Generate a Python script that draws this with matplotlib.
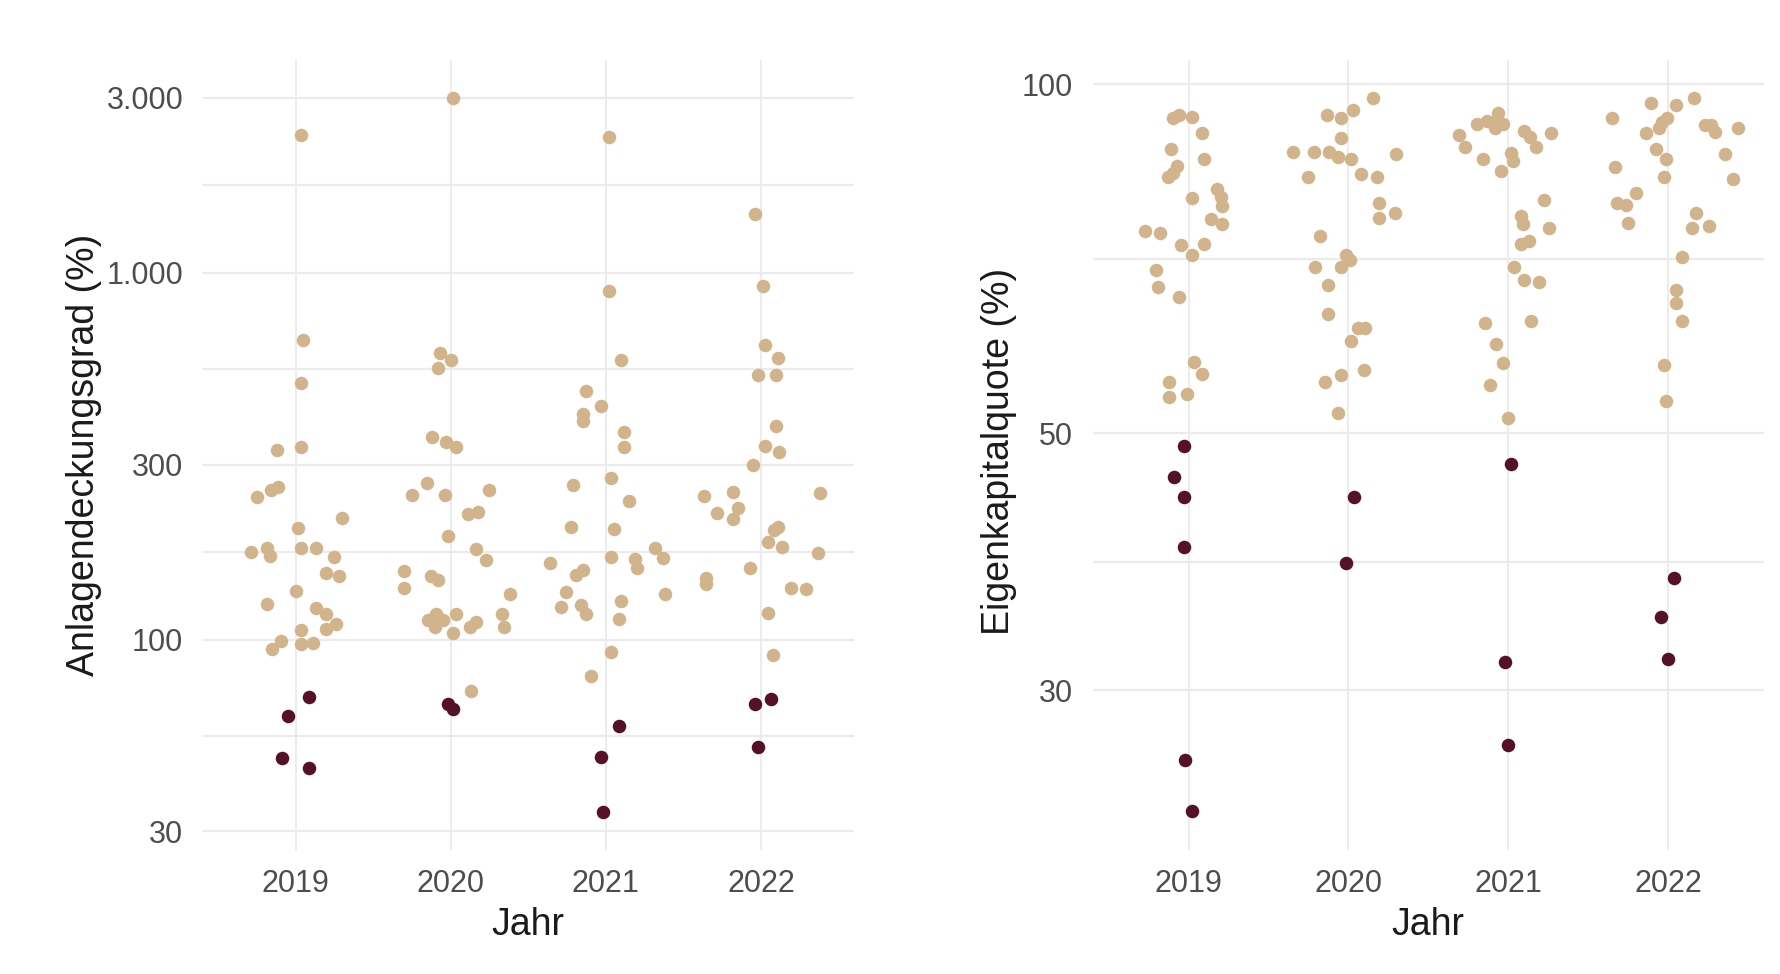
import numpy as np
import matplotlib
matplotlib.use("Agg")
import matplotlib.pyplot as plt
from matplotlib.ticker import FixedLocator, NullFormatter

plt.rcParams['font.family'] = ['Liberation Sans', 'DejaVu Sans']

years = ["2019", "2020", "2021", "2022"]

# ---------- Anlagendeckungsgrad (%) : (value, jitter) ----------
adg_hell_2019 = [(2372, 0.035), (655, 0.047), (500, 0.032), (334, 0.032), (329, -0.118),
                 (261, -0.113), (255, -0.16), (245, -0.248), (215, 0.30), (202, 0.015),
                 (178, -0.184), (178, 0.032), (178, 0.133), (173, -0.285), (169, -0.167),
                 (167.5, 0.246), (152, 0.193), (149, 0.282), (136, 0.0), (125, -0.182),
                 (122, 0.133), (117.5, 0.193), (110, 0.261), (107, 0.197), (106, 0.032),
                 (99, -0.096), (98, 0.111), (97, 0.032), (94, -0.152)]
adg_dunkel_2019 = [(69.6, 0.083), (62, -0.049), (47.6, -0.086), (44.6, 0.083)]

adg_hell_2020 = [(2985, 0.012), (603, -0.071), (578, 0.0), (550, -0.081), (357, -0.12),
                 (345, -0.032), (334, 0.032), (267, -0.152), (255, 0.244), (247, -0.248),
                 (247, -0.034), (223, 0.175), (220, 0.111), (191, -0.017), (176, 0.16),
                 (165, 0.229), (154, -0.30), (149, -0.13), (145, -0.081), (138, -0.30),
                 (133, 0.385), (117.5, -0.098), (117.5, 0.036), (117.5, 0.33), (113, -0.145),
                 (113, -0.049), (112, 0.165), (108.5, -0.103), (108.5, 0.342), (108, 0.122),
                 (104, 0.015), (72.3, 0.133)]
adg_dunkel_2020 = [(66.8, -0.017), (64.8, 0.015)]

adg_hell_2021 = [(2337, 0.019), (893, 0.021), (578, 0.10), (477, -0.128), (432, -0.032),
                 (412, -0.145), (393, -0.145), (369, 0.118), (334, 0.118), (276, 0.032),
                 (263, -0.214), (238, 0.15), (203, -0.227), (200, 0.051), (178, 0.315),
                 (167.5, 0.032), (167, 0.368), (166, 0.186), (162, -0.36), (157, 0.201),
                 (155, -0.145), (150, -0.193), (135, -0.259), (133, 0.379), (127, 0.10),
                 (124, -0.163), (123, -0.291), (117.5, -0.128), (114, 0.086), (92.3, 0.036),
                 (79.8, -0.096)]
adg_dunkel_2021 = [(58, 0.086), (47.8, -0.032), (33.8, -0.017)]

adg_hell_2022 = [(1442, -0.036), (921, 0.015), (635, 0.028), (586, 0.113), (525, -0.021),
                 (525, 0.096), (381, 0.096), (336, 0.028), (324, 0.118), (299, -0.053),
                 (253, -0.182), (251, 0.379), (246, -0.364), (229, -0.15), (221, -0.282),
                 (213, -0.178), (203, 0.113), (199, 0.081), (185, 0.043), (179, 0.133),
                 (172, 0.37), (157, -0.068), (147, -0.353), (142, -0.353), (138, 0.193),
                 (137, 0.289), (118, 0.047), (91, 0.079)]
adg_dunkel_2022 = [(66.9, -0.036), (68.8, 0.064), (51.0, -0.021)]

# ---------- Eigenkapitalquote (%) : (value, jitter) ----------
ekq_hell_2019 = [(93.5, -0.095), (94.1, -0.058), (93.7, 0.019), (90.7, 0.083), (87.9, -0.11),
                 (86.2, 0.097), (85.0, -0.073), (83.9, -0.10), (83.1, -0.13), (81.2, 0.18),
                 (79.8, 0.019), (80.0, 0.205), (78.5, 0.211), (76.5, 0.143), (75.8, 0.211),
                 (74.7, -0.27), (74.4, -0.176), (72.6, -0.048), (71.3, 0.019), (72.8, 0.097),
                 (69.2, -0.203), (66.8, -0.193), (65.5, -0.062), (57.6, 0.035), (56.2, 0.083),
                 (55.3, -0.124), (53.7, -0.124), (54.0, -0.012)]
ekq_dunkel_2019 = [(48.7, -0.027), (45.8, -0.093), (44.0, -0.027), (39.9, -0.027),
                   (26.1, -0.019), (23.6, 0.02)]

ekq_hell_2020 = [(97.4, 0.157), (95.0, 0.03), (94.1, -0.136), (93.5, -0.048), (89.8, -0.048),
                 (87.5, -0.346), (87.5, -0.214), (87.5, -0.124), (86.6, -0.066), (86.2, 0.015),
                 (87.1, 0.30), (83.1, -0.255), (83.7, 0.077), (83.1, 0.176), (79.0, 0.191),
                 (76.6, 0.191), (77.5, 0.29), (74.0, -0.176), (71.2, -0.015), (70.5, 0.01),
                 (69.6, -0.211), (69.6, -0.048), (67.1, -0.129), (63.4, -0.129), (61.6, 0.062),
                 (61.6, 0.104), (60.0, 0.015), (56.7, 0.098), (56.1, -0.048), (55.3, -0.145),
                 (52.0, -0.062)]
ekq_dunkel_2020 = [(44.0, 0.035), (38.6, -0.017)]

ekq_hell_2021 = [(94.4, -0.062), (93.0, -0.135), (92.8, -0.083), (92.5, -0.031), (92.5, -0.197),
                 (91.6, -0.083), (90.4, -0.305), (88.3, -0.27), (91.2, 0.10), (90.1, 0.135),
                 (90.7, 0.27), (88.3, 0.176), (86.2, -0.16), (87.2, 0.017), (85.9, 0.031),
                 (84.1, -0.048), (79.5, 0.222), (77.0, 0.083), (75.8, 0.093), (75.1, 0.255),
                 (72.8, 0.079), (73.3, 0.131), (69.6, 0.037), (67.8, 0.097), (67.5, 0.193),
                 (62.2, -0.145), (62.5, 0.145), (59.7, -0.079), (57.5, -0.031), (55.0, -0.114),
                 (51.5, 0.0)]
ekq_dunkel_2021 = [(47.0, 0.015), (31.7, -0.019), (26.9, 0.0)]

ekq_hell_2022 = [(96.4, -0.104), (97.4, 0.162), (96.0, 0.052), (93.5, -0.348), (93.6, -0.004),
                 (92.8, -0.041), (91.6, -0.058), (90.7, -0.139), (92.2, 0.228), (92.3, 0.27),
                 (91.0, 0.294), (91.6, 0.435), (87.9, -0.077), (86.2, -0.01), (87.1, 0.357),
                 (84.8, -0.332), (83.1, -0.025), (82.8, 0.404), (80.6, -0.203), (79.0, -0.317),
                 (78.7, -0.263), (75.9, -0.253), (77.5, 0.176), (75.1, 0.149), (75.5, 0.259),
                 (71.0, 0.087), (66.5, 0.052), (64.8, 0.052), (62.5, 0.087), (57.3, -0.025),
                 (53.3, -0.01)]
ekq_dunkel_2022 = [(37.5, 0.034), (34.7, -0.044), (31.9, 0.0)]

adg_ticks = [30, 100, 300, 1000, 3000]
adg_ticklabels = ["30", "100", "300", "1.000", "3.000"]
ekq_ticks = [30, 50, 100]
ekq_ticklabels = ["30", "50", "100"]

TAN = "#D2B48C"
DARK = "#55102A"
GRID = "#EBEBEB"

W, H = 1780, 974
fig = plt.figure(figsize=(W / 100, H / 100), dpi=100)
fig.patch.set_facecolor("white")
ax1 = fig.add_axes([202.6 / W, 1 - 850 / H, (854 - 202.6) / W, 790 / H])
ax2 = fig.add_axes([1092.6 / W, 1 - 850 / H, (1764 - 1092.6) / W, 790 / H])


def draw(ax, hell, dunkel, ticks, ticklabels, ylim, ylabel, ylab_xy):
    ax.set_yscale("log")
    for i, (h, d) in enumerate(zip(hell, dunkel)):
        pos = i + 1
        ax.scatter([pos + p[1] for p in h], [p[0] for p in h], s=95, color=TAN,
                   linewidths=0, zorder=3)
        ax.scatter([pos + p[1] for p in d], [p[0] for p in d], s=95, color=DARK,
                   linewidths=0, zorder=4)
    ax.set_xlim(0.4, 4.6)
    ax.set_ylim(*ylim)
    ax.set_xticks(range(1, len(years) + 1))
    ax.set_xticklabels(years)
    ax.set_yticks(ticks)
    ax.set_yticklabels(ticklabels)
    minor = [np.sqrt(a * b) for a, b in zip(ticks[:-1], ticks[1:])]
    ax.yaxis.set_minor_locator(FixedLocator(minor))
    ax.yaxis.set_minor_formatter(NullFormatter())
    ax.grid(True, which="both", axis="y", color=GRID, lw=1.6)
    ax.grid(True, which="major", axis="x", color=GRID, lw=1.3)
    ax.set_axisbelow(True)
    ax.tick_params(which="both", length=0, labelsize=22, labelcolor="#4D4D4D", pad=14)
    for s in ax.spines.values():
        s.set_visible(False)
    ax.set_xlabel("Jahr", fontsize=27, color="#1A1A1A")
    ax.xaxis.set_label_coords(0.5, -0.072)
    ax.set_ylabel(ylabel, fontsize=27, color="#1A1A1A")
    ax.yaxis.set_label_coords(*ylab_xy)


draw(ax1,
     [adg_hell_2019, adg_hell_2020, adg_hell_2021, adg_hell_2022],
     [adg_dunkel_2019, adg_dunkel_2020, adg_dunkel_2021, adg_dunkel_2022],
     adg_ticks, adg_ticklabels, (26.7, 3798), "Anlagendeckungsgrad (%)", (-0.1544, 0.5))
draw(ax2,
     [ekq_hell_2019, ekq_hell_2020, ekq_hell_2021, ekq_hell_2022],
     [ekq_dunkel_2019, ekq_dunkel_2020, ekq_dunkel_2021, ekq_dunkel_2022],
     ekq_ticks, ekq_ticklabels, (21.84, 104.95), "Eigenkapitalquote (%)", (-0.1126, 0.504))

fig.savefig("out.png", dpi=100, facecolor="white")
